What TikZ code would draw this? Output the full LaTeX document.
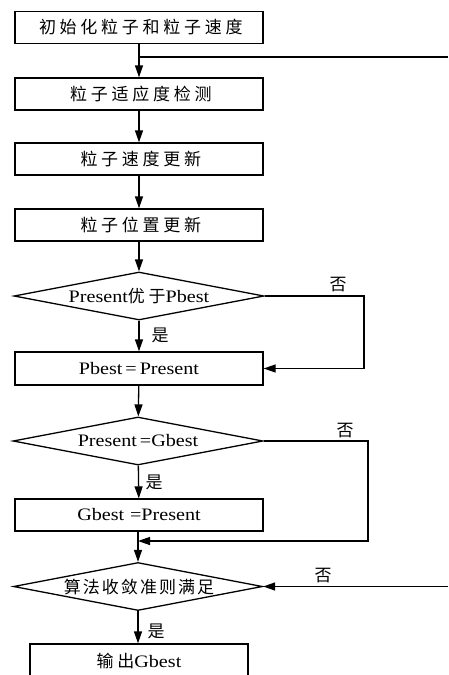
\documentclass[tikz,border=0pt]{standalone}
\usepackage{fontspec}
\setmainfont{Liberation Serif}[FakeStretch=1.15]
\newfontfamily\cjk{Noto Sans CJK SC}[LetterSpace=22]
\newfontfamily\cjktight{Noto Sans CJK SC}[LetterSpace=12]
\newfontfamily\cjkn{Noto Sans CJK SC}
\usetikzlibrary{shapes.geometric,arrows.meta}

\tikzset{
  every node/.style={font=\fontsize{17.5}{20}\selectfont},
  box/.style={draw, line width=1.3pt, minimum width=248pt, minimum height=32pt, inner sep=0pt},
  dia/.style={draw, diamond, shape aspect=5, inner sep=0pt, line width=1.3pt,
              minimum width=250pt, minimum height=48pt},
  line/.style={draw, line width=1.3pt},
  flow/.style={line, -{Triangle[length=12pt,width=8pt]}},
  lbl/.style={font=\cjkn\fontsize{17}{17}\selectfont, inner sep=0pt},
}
% spaced Chinese caption; the trailing letter space is taken back
\newcommand\zh[1]{{\cjk\fontsize{17}{17}\selectfont #1\kern-3.7pt}}
% Chinese run inside mixed text, gap kept before the Latin part
\newcommand\zhm[1]{{\cjk\fontsize{17}{17}\selectfont #1}}
\newcommand\zhs[1]{{\cjktight\fontsize{17}{17}\selectfont #1\kern-2pt}}

\begin{document}
\begin{tikzpicture}[x=1pt,y=-1pt]
  \useasboundingbox (0,0) rectangle (448,675);
  \clip (0,0) rectangle (448,675);

  % process chain
  \node[box] (b1) at (139,27.5) {\zh{初始化粒子和粒子速度}};
  \node[box] (b2) at (139,94)   {\zh{粒子适应度检测}};
  \node[box] (b3) at (139,159)  {\zh{粒子速度更新}};
  \node[box] (b4) at (139,225)  {\zh{粒子位置更新}};
  \node[dia] (d1) at (139,296)  {Present\zhm{优于}Pbest};
  \node[box, minimum height=33pt] (b5) at (139,368.5) {Pbest\,=\,Present};
  \node[dia] (d2) at (138,441)  {Present\,=Gbest};
  \node[box] (b6) at (139,515)  {Gbest\,\,=Present};
  \node[dia, minimum width=249pt] (d3) at (138,586.5) {\zhs{算法收敛准则满足}};
  \node[box, minimum width=218pt, minimum height=62pt] (b7) at (139,675) {};
  \node (out) at (139,661) {\zhm{输出}Gbest};

  % loop ends at the right margin
  \coordinate (topR) at (448,57);
  \coordinate (botR) at (448,586.5);
  \coordinate (c1) at (364,296);
  \coordinate (c2) at (368,441);
  \coordinate (m2) at (138,541);

  % main flow
  \draw[flow] (b1) -- (b2);
  \draw[line] (topR) -- (topR -| b1.south);
  \draw[flow] (b2) -- (b3);
  \draw[flow] (b3) -- (b4);
  \draw[flow] (b4) -- (d1);
  \draw[flow] (d1) -- (b5);
  \draw[flow] (d1.east) -- (c1) |- (b5.east);
  \draw[flow] (b5) -- (d2);
  \draw[flow] (d2) -- (b6);
  \draw[flow] (d2.east) -- (c2) |- (m2);
  \draw[flow] (b6.south -| d3.north) -- (d3.north);
  \draw[flow] (botR) -- (d3.east);
  \draw[flow] (d3) -- (b7.north -| d3.south);

  % branch labels
  \node[lbl] (n1) at (338,285) {否};
  \node[lbl] (y1) at (160,335) {是};
  \node[lbl] (n2) at (345,431) {否};
  \node[lbl] (y2) at (154,482) {是};
  \node[lbl] (n3) at (323,576) {否};
  \node[lbl] (y3) at (156,631) {是};
\end{tikzpicture}
\end{document}
